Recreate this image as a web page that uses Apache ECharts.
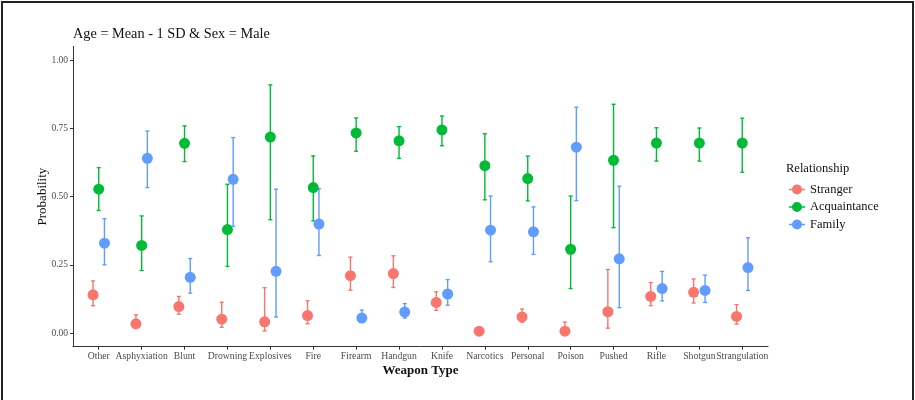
<!DOCTYPE html>
<html>
<head>
<meta charset="utf-8">
<script src="https://cdn.jsdelivr.net/npm/echarts@6/dist/echarts.min.js"></script>
<style>
html,body{margin:0;padding:0;background:#fff;}
#chart{width:915px;height:400px;}
</style>
</head>
<body>
<div id="chart"></div>
<script>
const categories = ['Other','Asphyxiation','Blunt','Drowning','Explosives','Fire','Firearm','Handgun','Knife','Narcotics','Personal','Poison','Pushed','Rifle','Shotgun','Strangulation'];
const groups = ['Stranger','Acquaintance','Family'];
const yTicks = [0, 0.25, 0.5, 0.75, 1.0];

const strangerMean = [0.140,0.034,0.097,0.051,0.041,0.064,0.210,0.218,0.112,0.007,0.059,0.007,0.078,0.134,0.149,0.061];
const strangerLow  = [0.100,0.022,0.069,0.021,0.008,0.034,0.157,0.167,0.083,0.003,0.040,0.001,0.018,0.100,0.110,0.033];
const strangerHigh = [0.191,0.067,0.134,0.113,0.166,0.118,0.278,0.283,0.151,0.012,0.088,0.040,0.233,0.185,0.198,0.104];

const acqMean = [0.527,0.321,0.695,0.379,0.718,0.533,0.733,0.704,0.744,0.613,0.566,0.307,0.633,0.696,0.696,0.696];
const acqLow  = [0.449,0.229,0.628,0.244,0.415,0.411,0.666,0.640,0.686,0.488,0.484,0.163,0.386,0.630,0.630,0.589];
const acqHigh = [0.606,0.429,0.759,0.545,0.909,0.649,0.788,0.756,0.795,0.730,0.648,0.502,0.838,0.752,0.751,0.787];

const famMean = [0.329,0.640,0.204,0.563,0.226,0.399,0.055,0.077,0.143,0.377,0.371,0.681,0.272,0.163,0.156,0.240];
const famLow  = [0.250,0.533,0.146,0.391,0.059,0.284,0.039,0.055,0.102,0.261,0.288,0.485,0.093,0.118,0.112,0.156];
const famHigh = [0.419,0.740,0.273,0.716,0.527,0.529,0.084,0.108,0.196,0.502,0.462,0.827,0.538,0.226,0.212,0.349];

const colors = ['#F8766D','#00BA38','#619CFF'];
const dodge = [-0.133, 0, 0.133];
const seriesData = [
  [strangerMean, strangerLow, strangerHigh],
  [acqMean, acqLow, acqHigh],
  [famMean, famLow, famHigh]
];
const serif = 'Liberation Serif';

const series = [];
groups.forEach((g, gi) => {
  const [m, lo, hi] = seriesData[gi];
  series.push({
    name: g,
    type: 'custom',
    renderItem: function (params, api) {
      const x = api.value(0);
      const top = api.coord([x, api.value(2)]);
      const bot = api.coord([x, api.value(1)]);
      const cw = 2;
      const style = {stroke: colors[gi], lineWidth: 1.4, fill: null};
      return {
        type: 'group',
        children: [
          {type: 'line', shape: {x1: top[0], y1: top[1], x2: bot[0], y2: bot[1]}, style: style},
          {type: 'line', shape: {x1: top[0]-cw, y1: top[1], x2: top[0]+cw, y2: top[1]}, style: style},
          {type: 'line', shape: {x1: bot[0]-cw, y1: bot[1], x2: bot[0]+cw, y2: bot[1]}, style: style}
        ]
      };
    },
    data: categories.map((c, i) => [i + dodge[gi], lo[i], hi[i]]),
    itemStyle: {color: colors[gi]},
    silent: true,
    z: 2
  });
});
groups.forEach((g, gi) => {
  const [m] = seriesData[gi];
  series.push({
    name: g,
    type: 'scatter',
    symbol: 'circle',
    symbolSize: 11,
    itemStyle: {color: colors[gi], opacity: 1},
    data: categories.map((c, i) => [i + dodge[gi], m[i]]),
    z: 3
  });
});

const legendIcon = 'path://M0,4.3H16V5.7H0Z M13,5A5,5,0,1,1,3,5A5,5,0,1,1,13,5Z';

const chart = echarts.init(document.getElementById('chart'));
chart.setOption({
  animation: false,
  backgroundColor: '#ffffff',
  title: [
    {text: 'Age = Mean - 1 SD & Sex = Male', left: 73, top: 27, padding: 0,
     textStyle: {fontFamily: serif, fontSize: 14.3, fontWeight: 'normal', color: '#111'}},
    {text: 'Relationship', left: 786, top: 162, padding: 0,
     textStyle: {fontFamily: serif, fontSize: 12.5, fontWeight: 'normal', color: '#111'}}
  ],
  legend: {
    data: groups.map((g, gi) => ({name: g, icon: legendIcon, itemStyle: {color: colors[gi]}})),
    orient: 'vertical',
    left: 789,
    top: 183,
    padding: 0,
    itemWidth: 16,
    itemHeight: 10,
    itemGap: 4.5,
    textStyle: {fontFamily: serif, fontSize: 12.5, lineHeight: 12, color: '#111'},
    selectedMode: false
  },
  grid: {left: 73, right: 147, top: 46.4, bottom: 53.3},
  xAxis: {
    type: 'value',
    min: -0.6,
    max: 15.6,
    name: 'Weapon Type',
    nameLocation: 'middle',
    nameGap: 17,
    nameMoveOverlap: false,
    nameTextStyle: {fontFamily: serif, fontSize: 13, fontWeight: 'bold', color: '#111'},
    axisLine: {show: true, onZero: false, lineStyle: {color: '#333', width: 1}},
    axisTick: {show: true, length: 3, customValues: categories.map((c, i) => i), lineStyle: {color: '#333'}},
    axisLabel: {
      customValues: categories.map((c, i) => i),
      formatter: v => categories[Math.round(v)],
      showMinLabel: true, showMaxLabel: true, hideOverlap: false,
      fontFamily: serif, fontSize: 9.7, color: '#4d4d4d', margin: 5
    },
    splitLine: {show: false}
  },
  yAxis: {
    type: 'value',
    min: -0.05,
    max: 1.05,
    name: 'Probability',
    nameLocation: 'middle',
    nameGap: 24,
    nameRotate: 90,
    nameMoveOverlap: false,
    nameTextStyle: {fontFamily: serif, fontSize: 13, color: '#111'},
    axisLine: {show: true, onZero: false, lineStyle: {color: '#333', width: 1}},
    axisTick: {show: true, length: 3, customValues: yTicks, lineStyle: {color: '#333'}},
    axisLabel: {
      customValues: yTicks,
      formatter: v => v.toFixed(2),
      showMinLabel: true, showMaxLabel: true,
      fontFamily: serif, fontSize: 9.5, color: '#4d4d4d', margin: 5
    },
    splitLine: {show: false}
  },
  graphic: [
    {type: 'rect', shape: {x: 2, y: 2, width: 911, height: 420},
     style: {fill: null, stroke: '#222', lineWidth: 2}, silent: true, z: 100}
  ],
  series: series
});
</script>
</body>
</html>
